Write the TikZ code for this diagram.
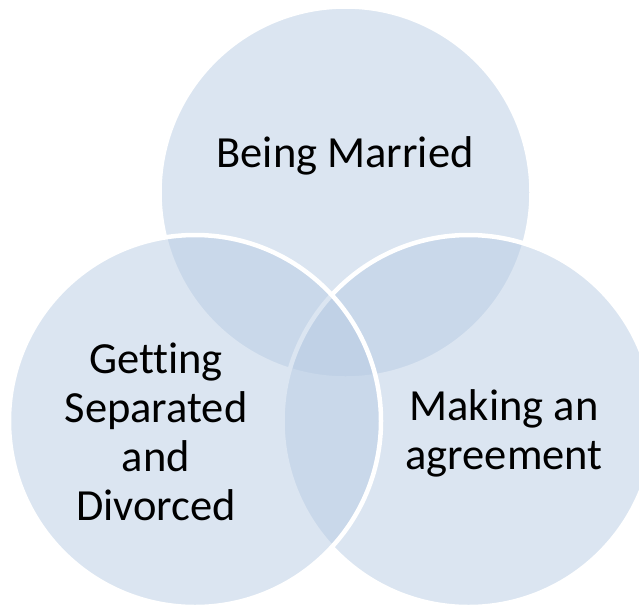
\documentclass[tikz,border=0pt]{standalone}
\usepackage{fontspec}
\setmainfont[Ligatures=NoCommon]{Carlito}
\definecolor{vennfill}{HTML}{B8CCE4}
\tikzset{
  venn/.style={fill=vennfill, fill opacity=0.5, draw=white, draw opacity=1, line width=4.5pt},
  lbl/.style={font=\fontsize{44.5}{49}\selectfont, align=center, text=black, inner sep=0pt}
}
\begin{document}
\begin{tikzpicture}[x=1pt,y=-1pt]
\useasboundingbox (0,0) rectangle (639,606);
\fill[white] (0,0) rectangle (639,606);
\path[venn] (345.5,192.5) circle[radius=186pt];
\path[venn] (468.5,421) circle[radius=186pt];
\path[venn] (195,421) circle[radius=186pt];
\node[lbl, anchor=base] (married) at (345,167) {Being Married};
\node[lbl] (separated) at (156,432) {Getting\\Separated\\and\\Divorced};
\node[lbl] (agreement) at (504,433) {Making an\\agreement};
\end{tikzpicture}
\end{document}
